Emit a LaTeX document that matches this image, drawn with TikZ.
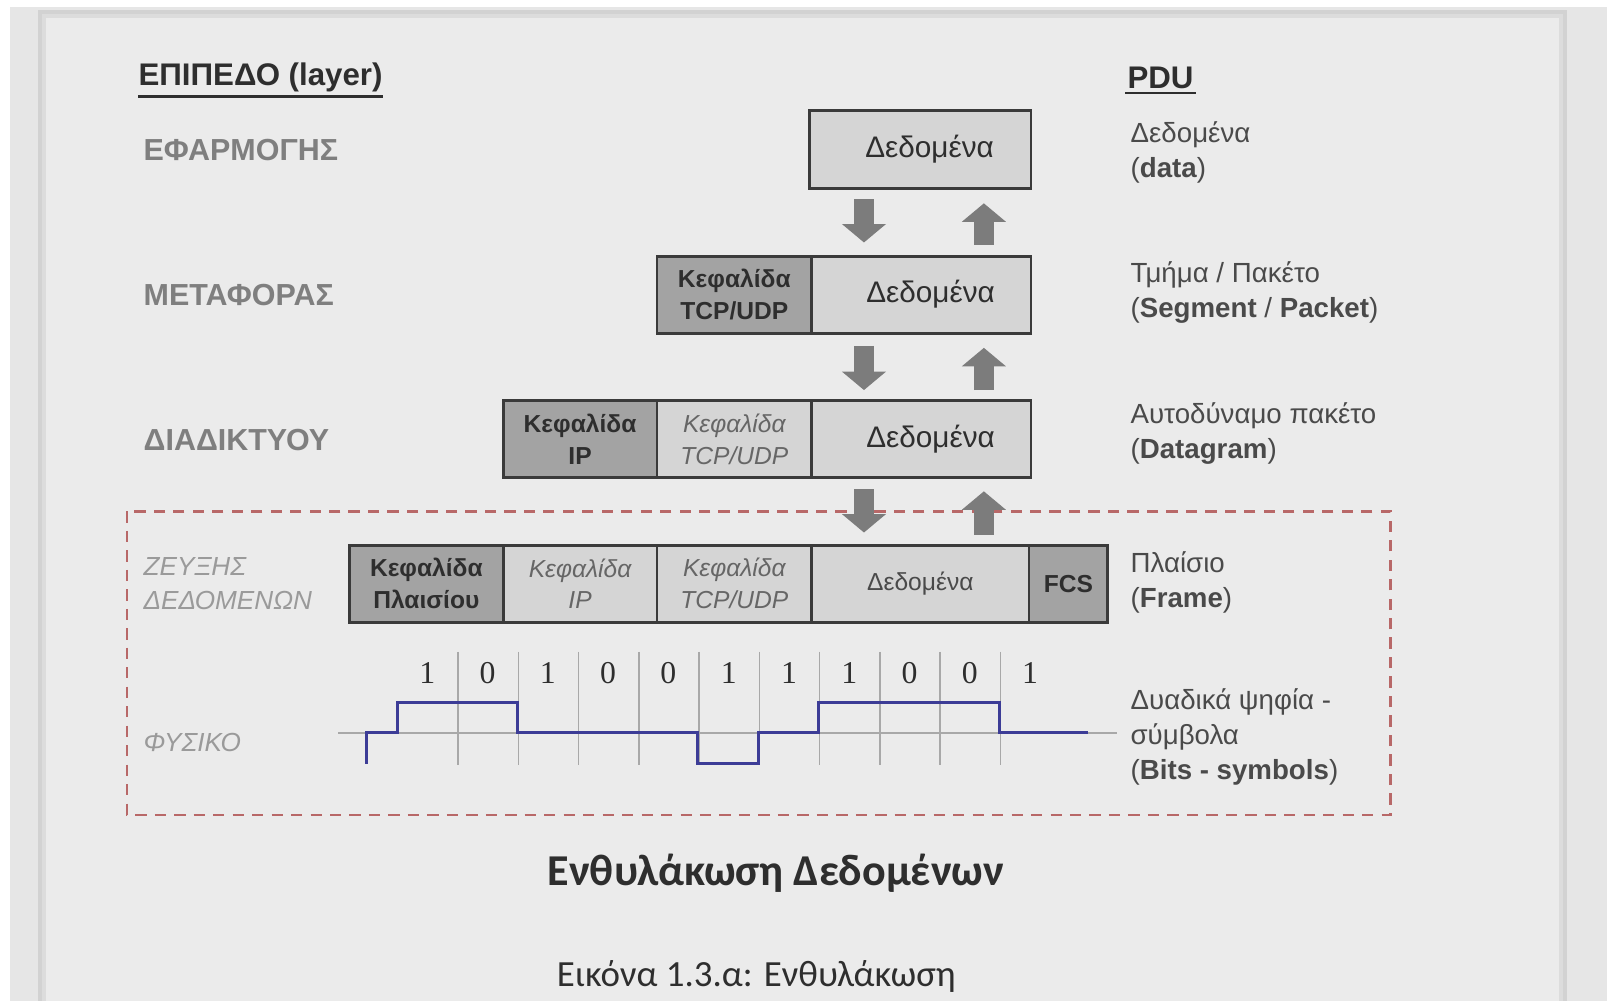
\documentclass[tikz,border=0pt]{standalone}
\usepackage{fontspec}
\setmainfont{Liberation Sans}
\newfontfamily\calfont{Carlito}
\newfontfamily\serfont{Liberation Serif}
\usetikzlibrary{calc,arrows.meta}
\definecolor{outer}{HTML}{E6E6E6}
\definecolor{shadowA}{HTML}{D2D2D2}
\definecolor{shadowB}{HTML}{DCDCDC}
\definecolor{panel}{HTML}{EBEBEB}
\definecolor{boxline}{HTML}{3A3A3A}
\definecolor{hdrfill}{HTML}{A3A3A3}
\definecolor{litfill}{HTML}{D5D5D5}
\definecolor{textdark}{HTML}{2E2E2E}
\definecolor{italtext}{HTML}{666666}
\definecolor{laygray}{HTML}{7F7F7F}
\definecolor{lay2gray}{HTML}{9A9A9A}
\definecolor{pdugray}{HTML}{4A4A4A}
\definecolor{arrgray}{HTML}{7C7C7C}
\definecolor{zonered}{HTML}{B86868}
\definecolor{gridgray}{HTML}{A8A8A8}
\definecolor{sigblue}{HTML}{3C3C96}
\begin{document}
\begin{tikzpicture}[x=1pt,y=-1pt,
  cell/.style={draw=boxline, line width=2.8, inner sep=0, minimum height=75, align=center},
  hdrcell/.style={cell, fill=hdrfill, text=textdark, font=\bfseries\fontsize{24}{31}\selectfont},
  litcell/.style={cell, fill=litfill, text=italtext, font=\itshape\fontsize{24}{31}\selectfont},
  datcell/.style={cell, fill=litfill, text=textdark, font=\fontsize{29}{34}\selectfont},
  laylabel/.style={anchor=west, inner sep=0, text=laygray, font=\bfseries\fontsize{29.7}{34}\selectfont},
  laylabeltwo/.style={anchor=west, inner sep=0, text=lay2gray, align=left, font=\itshape\fontsize{25.5}{33}\selectfont},
  pdulabel/.style={anchor=west, inner sep=0, align=left, text=pdugray, font=\fontsize{27}{34.5}\selectfont},
  headlabel/.style={anchor=west, inner sep=0, text=textdark, font=\bfseries\fontsize{30.5}{34}\selectfont},
  blockarrow/.style={draw=arrgray, line width=20, -{Triangle[length=18pt,width=42pt]}},
  gridline/.style={draw=gridgray, line width=1.5},
  bitlabel/.style={inner sep=0, text=textdark, font=\serfont\fontsize{31}{34}\selectfont}
]
\useasboundingbox (0,0) rectangle (1568,977);
% background
\fill[white] (0,0) rectangle (1568,977);
\fill[outer] (10,7) rectangle (1568,977);
\fill[shadowA] (37,10) rectangle (1529,977);
\fill[shadowB] (41,14) rectangle (1525,977);
\fill[panel] (45,18) rectangle (1521,977);

% headings
\node[headlabel] (hlayer) at (135,76) {ΕΠΙΠΕΔΟ (layer)};
\draw[textdark, line width=2.5] ($(hlayer.south west)+(0,4)$) -- ($(hlayer.south east)+(0,4)$);
\node[headlabel] (hpdu) at (1100,76) {PDU};
\draw[textdark, line width=2.5] ($(hpdu.south west)+(-2,4)$) -- ($(hpdu.south east)+(2,4)$);

% layer labels
\node[laylabel] (lapp) at (140,146) {ΕΦΑΡΜΟΓΗΣ};
\node[laylabel] (ltra) at (140,288) {ΜΕΤΑΦΟΡΑΣ};
\node[laylabel] (lnet) at (140,429) {ΔΙΑΔΙΚΤΥΟΥ};
\node[laylabeltwo] (llink) at (140,569.5) {ΖΕΥΞΗΣ\\ΔΕΔΟΜΕΝΩΝ};
\node[laylabeltwo] (lphy) at (140,724) {ΦΥΣΙΚΟ};

% PDU labels
\node[pdulabel] (p1) at (1103,148.5) {Δεδομένα\\(\textbf{data})};
\node[pdulabel] (p2) at (1103,285.5) {Τμήμα / Πακέτο\\(\textbf{Segment} / \textbf{Packet})};
\node[pdulabel] (p3) at (1103,423) {Αυτοδύναμο πακέτο\\(\textbf{Datagram})};
\node[pdulabel] (p4) at (1103,568.5) {Πλαίσιο\\(\textbf{Frame})};
\node[pdulabel] (p5) at (1103,719) {Δυαδικά ψηφία -\\σύμβολα\\(\textbf{Bits - symbols})};

% row 1
\node[datcell, minimum width=216, minimum height=76] (d1) at (898,146) {\hspace*{18pt}Δεδομένα};
% row 2
\node[hdrcell, minimum width=151] (t2) at (716.5,287.5) {Κεφαλίδα\\TCP/UDP};
\node[datcell, minimum width=214] (d2) at (899,287.5) {\hspace*{18pt}Δεδομένα};
% row 3
\node[hdrcell, minimum width=150] (i3) at (566,428.5) {Κεφαλίδα\\IP};
\node[litcell, minimum width=151] (t3) at (716.5,428.5) {Κεφαλίδα\\TCP/UDP};
\node[datcell, minimum width=214] (d3) at (899,428.5) {\hspace*{18pt}Δεδομένα};
% row 4
\node[hdrcell, minimum width=150] (f4) at (416,569.5) {Κεφαλίδα\\Πλαισίου};
\node[litcell, minimum width=150] (i4) at (566,569.5) {Κεφαλίδα\\IP};
\node[litcell, minimum width=151] (t4) at (716.5,569.5) {Κεφαλίδα\\TCP/UDP};
\node[cell, fill=litfill, text=pdugray, font=\fontsize{24}{30}\selectfont, minimum width=212] (d4) at (898,569.5) {Δεδομένα};
\node[hdrcell, minimum width=77] (fcs) at (1042.5,569.5) {FCS};

% arrows between layers
\draw[blockarrow] ($(d1.south)+(-55,9)$) -- ($(d2.north)+(-56,-12)$);
\draw[blockarrow] ($(d2.north)+(61,-10)$) -- ($(d1.south)+(62,13)$);
\draw[blockarrow] ($(d2.south)+(-56,11)$) -- ($(d3.north)+(-56,-9)$);
\draw[blockarrow] ($(d3.north)+(61,-9)$) -- ($(d2.south)+(61,13)$);

% dashed zone (link + physical)
\draw[zonered, line width=2.5, dash pattern=on 11pt off 8pt] (124,499) rectangle (1357,795);

\draw[blockarrow] ($(d3.south)+(-56,10)$) -- ($(d4.north)+(-55,-11)$);
\draw[blockarrow] ($(d4.north)+(62,-9)$) -- ($(d3.south)+(61,12)$);

% physical signal
\foreach \k in {0,...,9} \draw[gridline] ({447+\k*58.8},636) -- ({447+\k*58.8},746);
\draw[gridgray, line width=2] (330,715) -- (1090,715);
\foreach \b [count=\i from 0] in {1,0,1,0,0,1,1,1,0,0,1}
  \node[bitlabel] (bit\i) at ({417+\i*58.8},657) {\b};
\draw[sigblue, line width=3, line join=miter]
  (358,745) -- (358,715) -- (388,715) -- (388,685) -- (505,685) -- (505,715)
  -- (681,715) -- (681,745) -- (740,745) -- (740,715) -- (799,715) -- (799,685)
  -- (975,685) -- (975,715) -- (1062,715);

% title and caption
\node[inner sep=0, text=textdark, font=\calfont\bfseries\fontsize{43}{48}\selectfont] (title) at (757,852) {Ενθυλάκωση Δεδομένων};
\node[inner sep=0, text=textdark, font=\calfont\fontsize{36}{40}\selectfont] (caption) at (738,953) {Εικόνα 1.3.α: Ενθυλάκωση};
\end{tikzpicture}
\end{document}
